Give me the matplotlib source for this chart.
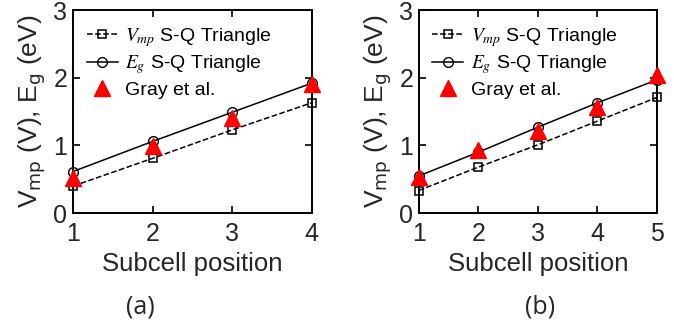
import numpy as np
import matplotlib
import matplotlib.pyplot as plt

matplotlib.rcParams['font.family'] = ['Liberation Sans', 'DejaVu Sans']
matplotlib.rcParams['mathtext.fontset'] = 'stix'

# panel (a): 4 subcells
pos_a = [1, 2, 3, 4]
vmp_a = [0.40, 0.81, 1.23, 1.63]
eg_a = [0.615, 1.06, 1.49, 1.92]
gray_a = [0.52, 0.99, 1.40, 1.91]

# panel (b): 5 subcells
pos_b = [1, 2, 3, 4, 5]
vmp_b = [0.335, 0.68, 1.01, 1.36, 1.71]
eg_b = [0.55, 0.90, 1.27, 1.63, 1.97]
gray_b = [0.53, 0.93, 1.21, 1.57, 2.04]

panel_labels = ['(a)', '(b)']


def draw_panel(ax, pos, vmp, eg, gray):
    ax.plot(pos, vmp, 'k--s', lw=1.1, ms=5.5, mfc='none', mew=1.1,
            label=r'$V_{mp}$ S-Q Triangle', clip_on=False)
    ax.plot(pos, eg, 'k-o', lw=1.1, ms=7, mfc='none', mew=1.0,
            label=r'$E_g$ S-Q Triangle', clip_on=False)
    ax.plot(pos, gray, '^', color='red', ms=11, ls='none',
            label='Gray et al.', clip_on=False, zorder=3)
    ax.set_xlim(pos[0], pos[-1])
    ax.set_ylim(0, 3)
    ax.set_xticks(pos)
    ax.set_yticks([0, 1, 2, 3])
    ax.tick_params(direction='in', top=True, right=True, length=5, width=1.2,
                   labelsize=18, labelcolor='#262626')
    ax.tick_params(axis='x', pad=6)
    ax.tick_params(axis='y', pad=4)
    for s in ax.spines.values():
        s.set_linewidth(1.4)
    ax.set_xlabel('Subcell position', fontsize=18.5, color='#262626', labelpad=5)
    ax.set_ylabel(r'V$_{\rm mp}$ (V), E$_{\rm g}$ (eV)', fontsize=19,
                  color='#262626', labelpad=4)
    ax.yaxis.label.set_math_fontfamily('dejavusans')
    ax.legend(loc='upper left', frameon=False, fontsize=14,
              handlelength=1.6, handletextpad=0.4, labelspacing=0.25,
              borderaxespad=0.3, bbox_to_anchor=(0.0, 0.99))


fig = plt.figure(figsize=(6.74, 3.24), dpi=100)
ax1 = fig.add_axes([0.1083, 0.342, 0.3542, 0.627])
ax2 = fig.add_axes([0.6212, 0.342, 0.3536, 0.627])
draw_panel(ax1, pos_a, vmp_a, eg_a, gray_a)
draw_panel(ax2, pos_b, vmp_b, eg_b, gray_b)

fig.text(140 / 674, 1 - 307 / 324, panel_labels[0], ha='center', va='center',
         fontsize=18, family='Open Sans', color='#262626')
fig.text(540 / 674, 1 - 307 / 324, panel_labels[1], ha='center', va='center',
         fontsize=18, family='Open Sans', color='#262626')

fig.savefig('out.png', dpi=100)
